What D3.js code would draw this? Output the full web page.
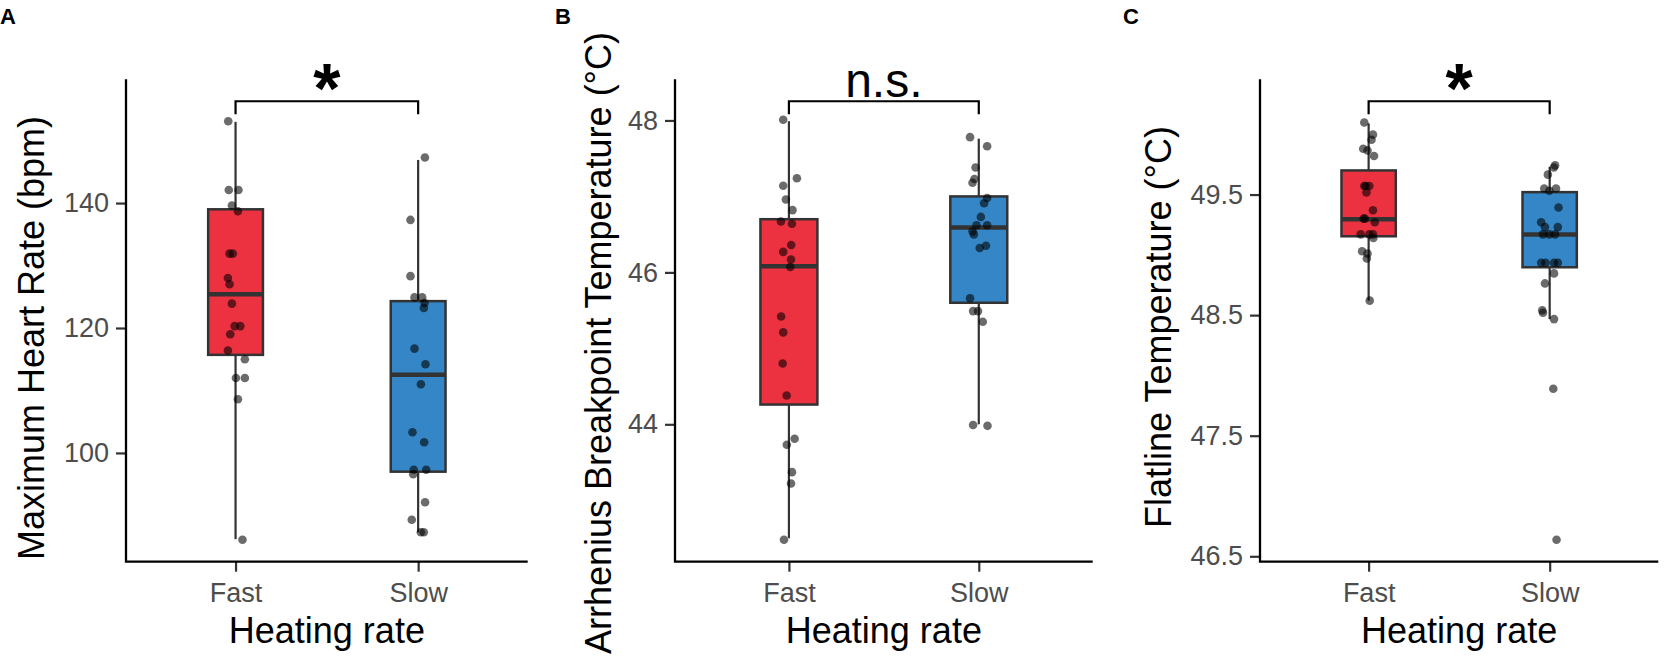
<!DOCTYPE html>
<html>
<head>
<meta charset="utf-8">
<script src="https://cdn.jsdelivr.net/npm/d3@7"></script>
<style>
  html, body { margin: 0; padding: 0; background: #fff; }
  svg { display: block; }
  text { font-family: "Liberation Sans", Arial, Helvetica, sans-serif; }
</style>
</head>
<body>
<svg id="chart" width="1664" height="667"></svg>
<script>
// ---------------- DATA ----------------
const categories = ["Fast", "Slow"];
const xTitle = "Heating rate";

// Panel A: Maximum heart rate (bpm)
const hrFast = [153.1, 142.1, 142.1, 139.6, 138.7, 131.9, 131.9, 128.0, 127.0, 123.9, 120.3, 120.3, 119.0, 116.4, 115.0, 112.0, 112.0, 108.6, 86.1];
const hrSlow = [147.3, 137.3, 128.3, 124.9, 124.9, 124.0, 123.2, 116.7, 114.2, 111.0, 103.3, 101.7, 97.3, 97.3, 96.6, 92.1, 89.3, 87.3, 87.3];
const hrFastJitter = [-0.040, -0.037, 0.016, -0.020, 0.013, -0.033, -0.015, -0.042, -0.033, -0.020, -0.005, 0.026, -0.029, -0.042, 0.051, 0.002, 0.051, 0.013, 0.038];
const hrSlowJitter = [0.037, -0.042, -0.042, -0.020, 0.022, 0.035, 0.031, -0.020, 0.040, 0.015, -0.031, 0.033, -0.024, 0.044, -0.027, 0.038, -0.035, 0.015, 0.031];
// box stats: [lower whisker, Q1, median, Q3, upper whisker]
const hrFastBox = [86.2, 115.7, 125.4, 139.0, 153.0];
const hrSlowBox = [87.3, 97.0, 112.5, 124.3, 146.9];
const hrTicks = [100, 120, 140];

// Panel B: Arrhenius breakpoint temperature (°C)
const abtFast = [48.01, 47.24, 47.14, 46.96, 46.82, 46.67, 46.64, 46.36, 46.27, 46.17, 46.07, 45.42, 45.21, 44.80, 44.38, 43.81, 43.73, 43.37, 43.22, 42.48];
const abtSlow = [47.78, 47.66, 47.38, 47.23, 47.18, 46.98, 46.91, 46.73, 46.62, 46.62, 46.54, 46.50, 46.35, 46.32, 45.66, 45.49, 45.49, 45.35, 43.99, 43.98];
const abtFastJitter = [-0.030, 0.042, -0.030, -0.016, 0.019, -0.042, 0.016, 0.012, -0.030, 0.011, 0.007, -0.041, -0.030, -0.033, -0.012, 0.030, -0.011, 0.016, 0.011, -0.026];
const abtSlowJitter = [-0.046, 0.044, -0.017, -0.023, -0.033, 0.044, 0.028, 0.011, -0.012, 0.044, -0.033, -0.026, 0.038, 0.005, -0.046, -0.030, -0.004, 0.021, -0.030, 0.046];
const abtFastBox = [42.50, 44.26, 46.08, 46.70, 47.99];
const abtSlowBox = [44.00, 45.60, 46.59, 47.00, 47.76];
const abtTicks = [44, 46, 48];

// Panel C: Flatline temperature (°C)
const ftFast = [50.097, 49.997, 49.955, 49.88, 49.866, 49.82, 49.571, 49.571, 49.571, 49.518, 49.37, 49.30, 49.30, 49.27, 49.17, 49.17, 49.17, 49.14, 49.03, 49.01, 48.97, 48.62];
const ftSlow = [49.742, 49.724, 49.665, 49.55, 49.55, 49.532, 49.393, 49.27, 49.23, 49.23, 49.17, 49.17, 49.17, 48.935, 48.935, 48.935, 48.935, 48.846, 48.763, 48.54, 48.52, 48.467, 47.89, 46.637];
const ftFastJitter = [-0.024, 0.024, 0.016, -0.030, -0.006, 0.030, -0.024, 0.004, -0.016, -0.012, 0.024, -0.028, -0.020, 0.034, -0.044, 0.004, 0.024, 0.026, -0.036, -0.006, -0.010, 0.006];
const ftSlowJitter = [0.030, 0.023, -0.010, -0.030, 0.035, -0.002, 0.049, -0.047, -0.026, 0.045, -0.037, -0.002, 0.030, -0.047, -0.023, 0.024, 0.045, 0.024, -0.026, -0.041, -0.037, 0.024, 0.020, 0.038];
const ftFastBox = [48.62, 49.154, 49.296, 49.70, 50.09];
const ftSlowBox = [48.467, 48.897, 49.168, 49.52, 49.73];
const ftTicks = [46.5, 47.5, 48.5, 49.5];

// Significance annotations
const panelTags = ["A", "B", "C"];
const yTitles = ["Maximum Heart Rate (bpm)", "Arrhenius Breakpoint Temperature (\u00B0C)", "Flatline Temperature (\u00B0C)"];
const sigLabels = ["*", "n.s.", "*"];
const bracketY = [156.3, 48.253, 50.274];

// ---------------- LAYOUT / STYLE ----------------
const plotTop = 79.3, plotBottom = 561.7;
const colors = ["#EC3140", "#3486C6"];
const panels = [
  { tag: panelTags[0], tagX: 0, left: 126, right: 527.7, titleX: 44, titleY: 338,
    values: [hrFast, hrSlow], jitter: [hrFastJitter, hrSlowJitter], boxes: [hrFastBox, hrSlowBox],
    ticks: hrTicks, fmt: d3.format("d"), ytitle: yTitles[0], sig: sigLabels[0], sigY: bracketY[0] },
  { tag: panelTags[1], tagX: 555, left: 675, right: 1092.7, titleX: 611, titleY: 343,
    values: [abtFast, abtSlow], jitter: [abtFastJitter, abtSlowJitter], boxes: [abtFastBox, abtSlowBox],
    ticks: abtTicks, fmt: d3.format("d"), ytitle: yTitles[1], sig: sigLabels[1], sigY: bracketY[1] },
  { tag: panelTags[2], tagX: 1123, left: 1260, right: 1658.3, titleX: 1171, titleY: 327,
    values: [ftFast, ftSlow], jitter: [ftFastJitter, ftSlowJitter], boxes: [ftFastBox, ftSlowBox],
    ticks: ftTicks, fmt: d3.format(".1f"), ytitle: yTitles[2], sig: sigLabels[2], sigY: bracketY[2] }
];

const svg = d3.select("#chart");

panels.forEach(p => {
  const g = svg.append("g");
  // ggplot-like expansion: 5% of data range (incl. bracket)
  const all = p.values.flat().concat([p.sigY]);
  const lo = d3.min(all), hi = d3.max(all), r = hi - lo;
  const y = d3.scaleLinear().domain([lo - 0.05 * r, hi + 0.05 * r]).range([plotBottom, plotTop]);
  // discrete axis as continuous positions 1..n with 0.6 expansion
  const x = d3.scaleLinear().domain([0.4, categories.length + 0.6]).range([p.left, p.right]);
  const boxW = x(1.3) - x(1.0);

  // panel tag
  g.append("text").attr("x", p.tagX).attr("y", 23.5)
    .attr("font-size", 22).attr("font-weight", "bold").attr("fill", "#000").text(p.tag);

  // y axis
  const yAxis = d3.axisLeft(y).tickValues(p.ticks).tickFormat(p.fmt).tickSize(10).tickPadding(7);
  const ya = g.append("g").attr("transform", `translate(${p.left},0)`).call(yAxis);
  ya.select(".domain").remove();
  ya.selectAll(".tick line").attr("stroke", "#333").attr("stroke-width", 2.2);
  ya.selectAll(".tick text").attr("font-size", 27).attr("fill", "#4D4D4D")
    .attr("font-family", "Liberation Sans, Arial, sans-serif");

  // x axis
  const xAxis = d3.axisBottom(x).tickValues(categories.map((c, i) => i + 1))
    .tickFormat((d) => categories[d - 1]).tickSize(10).tickPadding(11);
  const xa = g.append("g").attr("transform", `translate(0,${plotBottom})`).call(xAxis);
  xa.select(".domain").remove();
  xa.selectAll(".tick line").attr("stroke", "#333").attr("stroke-width", 2.2);
  xa.selectAll(".tick text").attr("font-size", 27).attr("fill", "#4D4D4D")
    .attr("font-family", "Liberation Sans, Arial, sans-serif");

  // axis lines (theme_classic)
  g.append("path").attr("d", `M${p.left},${plotTop}V${plotBottom}H${p.right}`)
    .attr("fill", "none").attr("stroke", "#000").attr("stroke-width", 2.3);

  // titles
  g.append("text").attr("x", (p.left + p.right) / 2).attr("y", 642.5)
    .attr("text-anchor", "middle").attr("font-size", 36).attr("fill", "#000").text(xTitle);
  g.append("text").attr("transform", `translate(${p.titleX},${p.titleY}) rotate(-90)`)
    .attr("text-anchor", "middle").attr("font-size", 36).attr("fill", "#000").text(p.ytitle);

  // boxplots
  p.boxes.forEach((b, i) => {
    const cx = x(i + 1);
    g.append("line").attr("x1", cx).attr("x2", cx).attr("y1", y(b[0])).attr("y2", y(b[1]))
      .attr("stroke", "#333").attr("stroke-width", 2.2);
    g.append("line").attr("x1", cx).attr("x2", cx).attr("y1", y(b[3])).attr("y2", y(b[4]))
      .attr("stroke", "#333").attr("stroke-width", 2.2);
    g.append("rect").attr("x", cx - boxW / 2).attr("width", boxW)
      .attr("y", y(b[3])).attr("height", y(b[1]) - y(b[3]))
      .attr("fill", colors[i]).attr("stroke", "#333").attr("stroke-width", 2.5);
    g.append("line").attr("x1", cx - boxW / 2).attr("x2", cx + boxW / 2)
      .attr("y1", y(b[2])).attr("y2", y(b[2]))
      .attr("stroke", "#333").attr("stroke-width", 4.5);
  });

  // jittered points
  p.values.forEach((vals, i) => {
    g.append("g").selectAll("circle").data(vals).join("circle")
      .attr("cx", (d, k) => x(i + 1 + p.jitter[i][k]))
      .attr("cy", d => y(d))
      .attr("r", 4.3)
      .attr("fill", "#000").attr("fill-opacity", 0.58);
  });

  // significance bracket
  const x1 = x(1), x2 = x(2), by = y(p.sigY);
  g.append("path").attr("d", `M${x1},${by + 13}V${by}H${x2}V${by + 13}`)
    .attr("fill", "none").attr("stroke", "#000").attr("stroke-width", 2.2);
  if (p.sig === "*") {
    g.append("text").attr("x", (x1 + x2) / 2).attr("y", by + 12)
      .attr("text-anchor", "middle").attr("font-size", 70).attr("font-weight", "bold")
      .attr("fill", "#000").text(p.sig);
  } else {
    g.append("text").attr("x", (x1 + x2) / 2).attr("y", by - 4.5)
      .attr("text-anchor", "middle").attr("font-size", 48)
      .attr("fill", "#000").text(p.sig);
  }
});
</script>
</body>
</html>
